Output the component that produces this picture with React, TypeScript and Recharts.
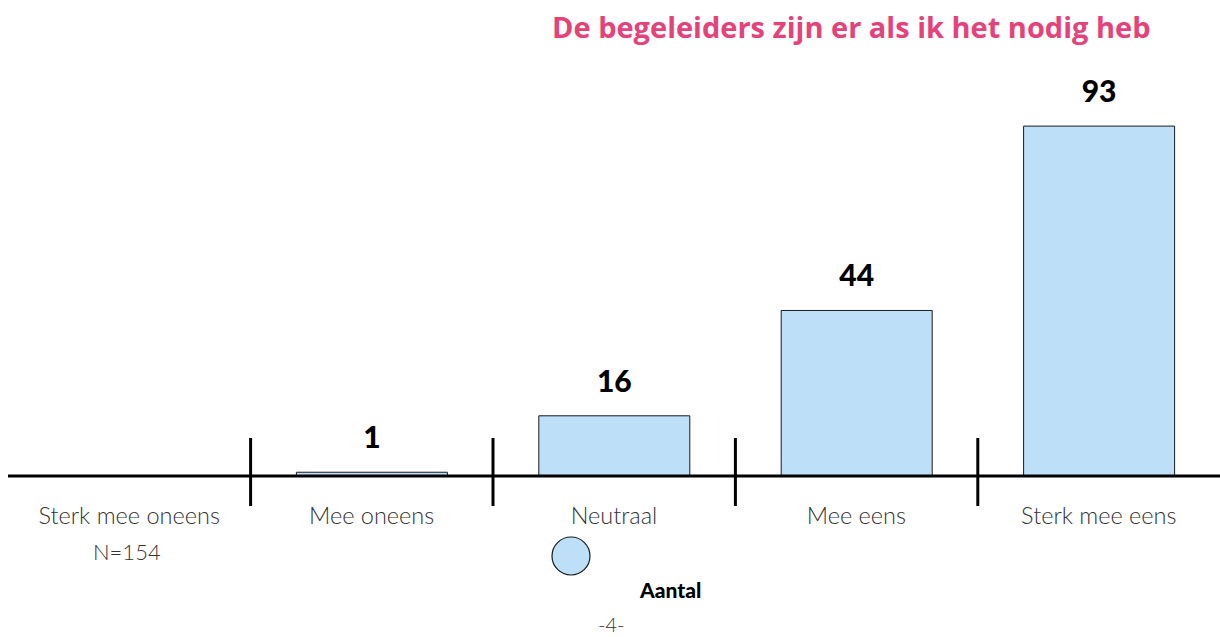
import { BarChart, Bar, XAxis, YAxis, LabelList } from 'recharts'

const categories = ['Sterk mee oneens', 'Mee oneens', 'Neutraal', 'Mee eens', 'Sterk mee eens']
const counts = [0, 1, 16, 44, 93]
const seriesName = 'Aantal'
const title = 'De begeleiders zijn er als ik het nodig heb'
const sampleNote = 'N=154'
const pageNumber = '-4-'

const chartData = categories.map((name, i) => ({ name, value: counts[i] }))

const BAND = (1220 - 10) / categories.length

function CategoryTick(props: any) {
  const { x, y, payload, index } = props
  return (
    <g>
      {index > 0 && (
        <line x1={x - BAND / 2} x2={x - BAND / 2} y1={y - 38} y2={y + 30} stroke="#000" strokeWidth={3} />
      )}
      <text x={x} y={y + 48} textAnchor="middle" fontFamily="Lato" fontWeight={300} fontSize={23.5} fill="#333">
        {payload.value}
      </text>
    </g>
  )
}

function ValueLabel(props: any) {
  const { x, y, width, value } = props
  if (!value) return null
  return (
    <text x={x + width / 2} y={y - 24} textAnchor="middle" fontFamily="Lato" fontWeight={900} fontSize={30} fill="#000">
      {value}
    </text>
  )
}

export default function App() {
  return (
    <div style={{ position: 'absolute', left: 0, top: 0, width: 1220, height: 637, background: '#fff', overflow: 'hidden' }}>
      <div
        style={{
          position: 'absolute',
          left: 552,
          top: 8,
          fontFamily: 'Open Sans',
          fontWeight: 700,
          fontSize: 29,
          lineHeight: 1.3,
          color: '#e5427a',
          whiteSpace: 'nowrap',
        }}
      >
        {title}
      </div>
      <BarChart width={1220} height={637} data={chartData} margin={{ top: 96, right: 0, left: 8, bottom: 101 }}>
        <YAxis hide domain={[0, 101]} />
        <XAxis
          dataKey="name"
          height={60}
          axisLine={{ stroke: '#000', strokeWidth: 3 }}
          tickLine={false}
          tickSize={0}
          tickMargin={0}
          interval={0}
          tick={<CategoryTick />}
        />
        <Bar dataKey="value" name={seriesName} fill="#bde0f8" stroke="#1a1a1a" strokeWidth={1} barSize={151} isAnimationActive={false}>
          <LabelList dataKey="value" content={<ValueLabel />} />
        </Bar>
      </BarChart>
      <svg width={44} height={44} style={{ position: 'absolute', left: 549, top: 534 }}>
        <circle cx={22} cy={22} r={19} fill="#bde0f8" stroke="#1a1a1a" strokeWidth={1.2} />
      </svg>
      <div
        style={{
          position: 'absolute',
          left: 640,
          top: 577,
          fontFamily: 'Lato',
          fontWeight: 900,
          fontSize: 21,
          lineHeight: 1.2,
          color: '#000',
        }}
      >
        {seriesName}
      </div>
      <div style={{ position: 'absolute', left: 93, top: 539, fontFamily: 'Lato', fontWeight: 300, fontSize: 22, lineHeight: 1.2, color: '#333' }}>
        {sampleNote}
      </div>
      <div style={{ position: 'absolute', left: 598, top: 613, fontFamily: 'Lato', fontWeight: 300, fontSize: 20, lineHeight: 1.1, color: '#333' }}>
        {pageNumber}
      </div>
    </div>
  )
}
